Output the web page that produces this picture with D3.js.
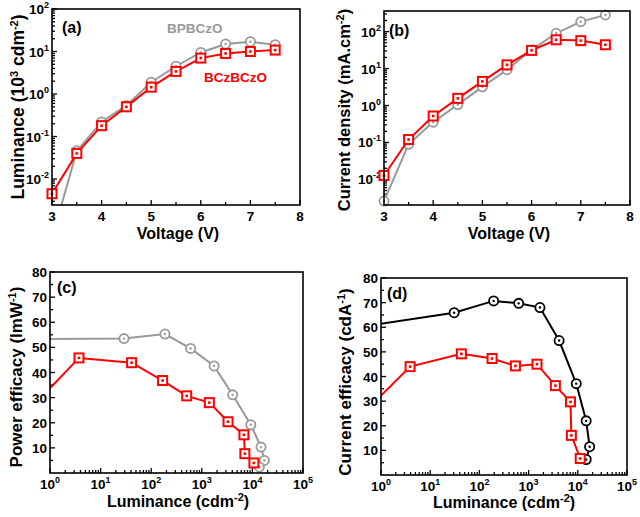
<!DOCTYPE html>
<html><head><meta charset="utf-8">
<script src="https://cdn.jsdelivr.net/npm/d3@7"></script>
<style>body{margin:0;background:#fff}svg{display:block}text{font-family:"Liberation Sans",Arial,sans-serif;font-weight:bold}</style>
</head><body>
<svg id="c" width="640" height="517"></svg>
<script>
// ---- data ----
const voltage = [3, 3.5, 4, 4.5, 5, 5.5, 6, 6.5, 7, 7.5];
const lumBP = [0.0004, 0.046, 0.22, 0.54, 1.9, 4.5, 9.5, 15, 17, 14.5];
const lumBC = [0.0045, 0.040, 0.18, 0.50, 1.45, 3.4, 7.0, 9.0, 10.0, 10.8];
const jBP = [0.0026, 0.089, 0.355, 1.06, 3.2, 9.3, 32, 90, 186, 282];
const jBC = [0.0128, 0.12, 0.52, 1.56, 4.5, 12.6, 31, 60, 57, 44];
const peLumBP = [0.3, 29, 187, 600, 1750, 4070, 9300, 14800, 17200, 13700];
const peBP = [53.3, 53.5, 55.3, 49.6, 42.6, 31.1, 19.2, 10.3, 5.0, 2.4];
const peLumBC = [0.5, 3.74, 41, 168, 503, 1410, 3300, 6800, 7100, 10700];
const peBC = [27.4, 45.8, 43.9, 36.8, 30.7, 28.0, 20.4, 15.2, 7.7, 4.0];
const ceLumBP = [0.3, 30.7, 195, 630, 1700, 4170, 9300, 14800, 17400, 14800];
const ceBP = [59.8, 65.9, 70.7, 69.7, 68.0, 54.6, 37.1, 22.0, 11.5, 6.3];
const ceLumBC = [0.5, 3.9, 43, 181, 540, 1480, 3500, 7100, 7400, 11200];
const ceBC = [26.2, 44.0, 49.2, 47.3, 44.3, 45.0, 36.3, 29.7, 16.1, 6.7];
const voltTicks = [3, 4, 5, 6, 7, 8];
const logTicksAB = [-2, -1, 0, 1, 2];
const logTicksCD = [0, 1, 2, 3, 4, 5];
const effTicks = [10, 20, 30, 40, 50, 60, 70, 80];
const seriesNames = ["BPBCzO", "BCzBCzO"];

const GRAY = "#999999", RED = "#ff0000", BLACK = "#000000";
const svg = d3.select("#c");
let clipId = 0;

function panel(o) {
  const g = svg.append("g");
  const x = o.xlog ? d3.scaleLog().domain(o.xd).range([o.l, o.r]) : d3.scaleLinear().domain(o.xd).range([o.l, o.r]);
  const y = o.ylog ? d3.scaleLog().domain(o.yd).range([o.b, o.t]) : d3.scaleLinear().domain(o.yd).range([o.b, o.t]);
  const id = "clip" + (clipId++);
  g.append("clipPath").attr("id", id).append("rect").attr("x", o.l).attr("y", o.t).attr("width", o.r - o.l).attr("height", o.b - o.t);

  // minor / major ticks
  function logMinors(d) {
    const out = [];
    const lo = Math.floor(Math.log10(d[0])), hi = Math.ceil(Math.log10(d[1]));
    for (let e = lo; e <= hi; e++) for (let k = 2; k <= 9; k++) { const v = k * Math.pow(10, e); if (v >= d[0] && v <= d[1]) out.push(v); }
    return out;
  }
  const xMaj = o.xlog ? o.xticks.map(e => Math.pow(10, e)) : o.xticks;
  const xMin = o.xlog ? logMinors(o.xd) : o.xminor;
  const yMaj = o.ylog ? o.yticks.map(e => Math.pow(10, e)) : o.yticks;
  const yMin = o.ylog ? logMinors(o.yd) : o.yminor;
  const tk = g.append("g").attr("stroke", "#000").attr("stroke-width", 1.3);
  xMaj.forEach(v => tk.append("line").attr("x1", x(v)).attr("x2", x(v)).attr("y1", o.b).attr("y2", o.b - 5));
  xMin.forEach(v => tk.append("line").attr("x1", x(v)).attr("x2", x(v)).attr("y1", o.b).attr("y2", o.b - 3));
  yMaj.forEach(v => tk.append("line").attr("y1", y(v)).attr("y2", y(v)).attr("x1", o.l).attr("x2", o.l + 5));
  yMin.forEach(v => tk.append("line").attr("y1", y(v)).attr("y2", y(v)).attr("x1", o.l).attr("x2", o.l + 3));

  // tick labels
  xMaj.forEach((v, i) => {
    const t = g.append("text").attr("x", x(v)).attr("y", o.b + 16).attr("text-anchor", "middle").attr("font-size", 13.5);
    if (o.xlog) { t.append("tspan").text("10"); t.append("tspan").attr("dy", -6).attr("font-size", 9).text(o.xticks[i]); }
    else t.text(v);
  });
  yMaj.forEach((v, i) => {
    const t = g.append("text").attr("x", o.l - 3).attr("y", y(v) + 5).attr("text-anchor", "end").attr("font-size", 13.5);
    if (o.ylog) { t.append("tspan").text("10"); t.append("tspan").attr("dy", -6).attr("font-size", 9).text(o.yticks[i]); }
    else t.text(v);
  });

  // titles
  const xt = g.append("text").attr("x", o.xtx).attr("y", o.xty).attr("text-anchor", "middle").attr("font-size", 16);
  o.xtitle.forEach(p => xt.append("tspan").attr("dy", p[1]).attr("font-size", p[2] || null).text(p[0]));
  const yt = g.append("text").attr("transform", `translate(${o.ytx},${o.yty}) rotate(-90)`).attr("text-anchor", "middle").attr("font-size", o.ytfs);
  o.ytitle.forEach(p => yt.append("tspan").attr("dy", p[1]).attr("font-size", p[2] || null).text(p[0]));

  // series
  o.series.forEach(s => {
    const pts = s.x.map((xv, i) => [xv, s.y[i]]);
    g.append("path").attr("clip-path", `url(#${id})`).attr("fill", "none").attr("stroke", s.color).attr("stroke-width", 2)
      .attr("d", d3.line().x(d => x(d[0])).y(d => y(d[1]))(pts));
    const inside = pts.filter(d => d[0] >= o.xd[0] && d[0] <= o.xd[1] && d[1] >= o.yd[0] && d[1] <= o.yd[1]);
    inside.forEach(d => {
      const cx = x(d[0]), cy = y(d[1]);
      if (s.marker === "circle") {
        g.append("circle").attr("cx", cx).attr("cy", cy).attr("r", 4.6).attr("fill", "#fff").attr("stroke", s.color).attr("stroke-width", 1.8);
        g.append("circle").attr("cx", cx).attr("cy", cy).attr("r", 1.2).attr("fill", s.color);
      } else {
        g.append("rect").attr("x", cx - 4.5).attr("y", cy - 4.5).attr("width", 9).attr("height", 9).attr("fill", "#fff").attr("stroke", s.color).attr("stroke-width", 2);
        g.append("rect").attr("x", cx - 1.3).attr("y", cy - 1.3).attr("width", 2.6).attr("height", 2.6).attr("fill", s.color);
      }
    });
  });

  // frame
  g.append("rect").attr("x", o.l).attr("y", o.t).attr("width", o.r - o.l).attr("height", o.b - o.t).attr("fill", "none").attr("stroke", "#000").attr("stroke-width", 1.6);
  g.append("text").attr("x", o.lab[1]).attr("y", o.lab[2]).attr("font-size", 16).text(o.lab[0]);
  return { g, x, y };
}

const a = panel({
  l: 52, r: 300, t: 9, b: 205, xd: [3, 8], yd: [0.00245, 100], ylog: true,
  xticks: voltTicks, xminor: [3.5, 4.5, 5.5, 6.5, 7.5], yticks: logTicksAB,
  xtitle: [["Voltage (V)", 0]], xtx: 178, xty: 239,
  ytitle: [["Luminance (10", 0], ["3", -6, 11], [" cdm", 6], ["-2", -6, 11], [")", 6]], ytx: 24, yty: 107, ytfs: 17.5,
  lab: ["(a)", 62, 33],
  series: [
    { x: voltage, y: lumBP, color: GRAY, marker: "circle" },
    { x: voltage, y: lumBC, color: RED, marker: "square" }
  ]
});
a.g.append("text").attr("x", 167).attr("y", 33).attr("font-size", 13.5).attr("fill", GRAY).text(seriesNames[0]);
a.g.append("text").attr("x", 204).attr("y", 82).attr("font-size", 13.5).attr("fill", RED).text(seriesNames[1]);

panel({
  l: 384, r: 630, t: 11, b: 205, xd: [3, 8], yd: [0.00203, 361], ylog: true,
  xticks: voltTicks, xminor: [3.5, 4.5, 5.5, 6.5, 7.5], yticks: logTicksAB,
  xtitle: [["Voltage (V)", 0]], xtx: 509, xty: 239,
  ytitle: [["Current density (mA.cm", 0], ["-2", -6, 11], [")", 6]], ytx: 350, yty: 110, ytfs: 16.5,
  lab: ["(b)", 389, 36],
  series: [
    { x: voltage, y: jBP, color: GRAY, marker: "circle" },
    { x: voltage, y: jBC, color: RED, marker: "square" }
  ]
});

panel({
  l: 50, r: 303, t: 272, b: 473, xd: [1, 1e5], yd: [0, 80], xlog: true,
  xticks: logTicksCD, yticks: effTicks, yminor: [5, 15, 25, 35, 45, 55, 65, 75],
  xtitle: [["Luminance (cdm", 0], ["-2", -6, 11], [")", 6]], xtx: 178, xty: 507,
  ytitle: [["Power efficacy (lmW", 0], ["-1", -6, 11], [")", 6]], ytx: 22, yty: 377, ytfs: 17,
  lab: ["(c)", 57, 293],
  series: [
    { x: peLumBP, y: peBP, color: GRAY, marker: "circle" },
    { x: peLumBC, y: peBC, color: RED, marker: "square" }
  ]
});

panel({
  l: 381, r: 627, t: 278, b: 475, xd: [1, 1e5], yd: [0, 80], xlog: true,
  xticks: logTicksCD, yticks: effTicks, yminor: [5, 15, 25, 35, 45, 55, 65, 75],
  xtitle: [["Luminance (cdm", 0], ["-2", -6, 11], [")", 6]], xtx: 504, xty: 508,
  ytitle: [["Current efficacy (cdA", 0], ["-1", -6, 11], [")", 6]], ytx: 351, yty: 382, ytfs: 17,
  lab: ["(d)", 387, 299],
  series: [
    { x: ceLumBP, y: ceBP, color: BLACK, marker: "circle" },
    { x: ceLumBC, y: ceBC, color: RED, marker: "square" }
  ]
});
</script>
</body></html>
